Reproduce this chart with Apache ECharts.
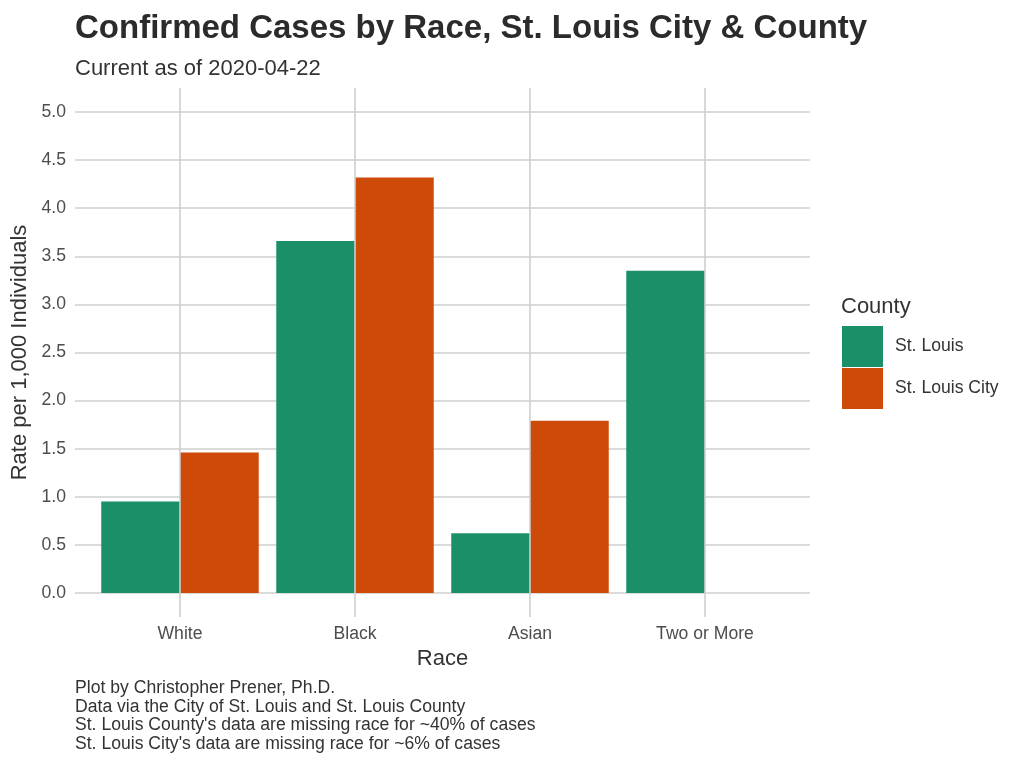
<!DOCTYPE html>
<html>
<head>
<meta charset="utf-8">
<script src="https://cdn.jsdelivr.net/npm/echarts@6/dist/echarts.min.js"></script>
<style>html,body{margin:0;padding:0;background:#fff}#c{width:1024px;height:768px}</style>
</head>
<body>
<div id="c"></div>
<script>
const categories = ['White', 'Black', 'Asian', 'Two or More'];
const stLouis = [0.95, 3.66, 0.62, 3.35];
const stLouisCity = [1.46, 4.32, 1.79, null];
const seriesNames = ['St. Louis', 'St. Louis City'];
const yTicks = [0, 5, 0.5];
const titleText = 'Confirmed Cases by Race, St. Louis City & County';
const subtitleText = 'Current as of 2020-04-22';
const captionLines = [
  'Plot by Christopher Prener, Ph.D.',
  'Data via the City of St. Louis and St. Louis County',
  "St. Louis County's data are missing race for ~40% of cases",
  "St. Louis City's data are missing race for ~6% of cases"
];

const FONT = '"Liberation Sans", Arial, Helvetica, sans-serif';
const GRID = '#cfcfcf';
const colors = ['#1B9068', '#CE4A08'];

const chart = echarts.init(document.getElementById('c'), null, {renderer: 'canvas'});
chart.setOption({
  backgroundColor: '#fff',
  animation: false,
  grid: [
    {left: 75, width: 735, top: 112, height: 481},
    {left: 75, width: 735, top: 88, height: 529},
    {left: 92.5, width: 700, top: 112, height: 481}
  ],
  xAxis: [
    {gridIndex: 0, type: 'value', min: 0, max: 1, show: false},
    {gridIndex: 1, type: 'value', min: 0.4, max: 4.6, show: false},
    {gridIndex: 2, type: 'category', data: categories,
     axisLine: {show: false}, axisTick: {show: false}, splitLine: {show: false},
     axisLabel: {margin: 32, fontFamily: FONT, fontSize: 17.6, color: '#4d4d4d'},
     name: 'Race', nameLocation: 'middle', nameGap: 54,
     nameTextStyle: {fontFamily: FONT, fontSize: 22, color: '#333'}}
  ],
  yAxis: [
    {gridIndex: 0, type: 'value', min: yTicks[0], max: yTicks[1], interval: yTicks[2],
     axisLine: {show: false}, axisTick: {show: false},
     splitLine: {show: true, lineStyle: {color: GRID, width: 1.6}},
     axisLabel: {margin: 9, fontFamily: FONT, fontSize: 17.6, color: '#4d4d4d',
       padding: [3, 0, 0, 0], formatter: v => v.toFixed(1)},
     name: 'Rate per 1,000 Individuals', nameLocation: 'middle', nameGap: 39, nameRotate: 90,
     nameTextStyle: {fontFamily: FONT, fontSize: 22, color: '#333'}},
    {gridIndex: 1, type: 'value', min: 0, max: 1, show: false},
    {gridIndex: 2, type: 'value', min: yTicks[0], max: yTicks[1], show: false}
  ],
  legend: {
    data: seriesNames, orient: 'vertical', left: 837, top: 321,
    itemWidth: 41, itemHeight: 41, itemGap: 1, icon: 'rect',
    textStyle: {fontFamily: FONT, fontSize: 17.6, color: '#333', padding: [4, 0, 0, 7]}
  },
  graphic: [
    {type: 'text', left: 75, top: 12,
     style: {text: titleText, font: 'bold 33px ' + FONT, fill: '#2b2b2b'}},
    {type: 'text', left: 75, top: 58,
     style: {text: subtitleText, font: '22px ' + FONT, fill: '#333'}},
    {type: 'text', left: 841, top: 296,
     style: {text: 'County', font: '22px ' + FONT, fill: '#333'}},
    {type: 'text', left: 75, top: 679,
     style: {text: captionLines.join('\n'), font: '17.6px ' + FONT, fill: '#333', lineHeight: 18.6}}
  ],
  series: [
    {type: 'line', xAxisIndex: 1, yAxisIndex: 1, data: [], silent: true,
     markLine: {silent: true, symbol: 'none', label: {show: false},
       lineStyle: {color: GRID, width: 1.6, type: 'solid'},
       data: categories.map((c, i) => ({xAxis: i + 1}))}},
    {name: seriesNames[0], type: 'bar', xAxisIndex: 2, yAxisIndex: 2, data: stLouis,
     barWidth: 78.75, barGap: '0%', itemStyle: {color: colors[0]}},
    {name: seriesNames[1], type: 'bar', xAxisIndex: 2, yAxisIndex: 2, data: stLouisCity,
     barWidth: 78.75, barGap: '0%', itemStyle: {color: colors[1]}}
  ]
});
</script>
</body>
</html>
